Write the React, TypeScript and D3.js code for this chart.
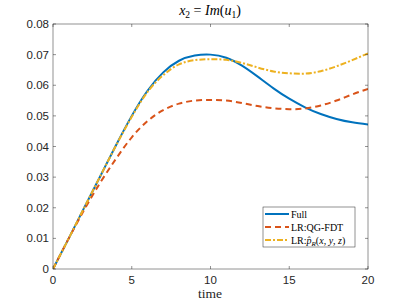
import * as d3 from 'd3'
import React from 'react'

const times = [0, 1, 2, 3, 4, 5, 6, 7, 8, 9, 10, 11, 12, 13, 14, 15, 16, 17, 18, 19, 20]
const full = [0, 0.01, 0.0202, 0.0303, 0.0404, 0.05, 0.0582, 0.0642, 0.068, 0.0697, 0.07, 0.069, 0.0664, 0.0628, 0.059, 0.0556, 0.0528, 0.0506, 0.049, 0.0479, 0.0472]
const qgfdt = [0, 0.01, 0.0195, 0.0282, 0.036, 0.043, 0.0483, 0.0519, 0.054, 0.055, 0.0552, 0.055, 0.0542, 0.0532, 0.0525, 0.0522, 0.0524, 0.0534, 0.055, 0.057, 0.0588]
const phat = [0, 0.01, 0.0202, 0.0303, 0.0403, 0.0497, 0.0578, 0.0633, 0.0668, 0.0682, 0.0685, 0.0683, 0.0673, 0.0658, 0.0645, 0.0639, 0.0638, 0.0646, 0.0662, 0.0682, 0.0704]
const xTicks = [0, 5, 10, 15, 20]
const yTicks = [0, 0.01, 0.02, 0.03, 0.04, 0.05, 0.06, 0.07, 0.08]

const series = [
  { name: 'Full', values: full, color: '#0072BD', dash: '' },
  { name: 'LR:QG-FDT', values: qgfdt, color: '#D95319', dash: '6,4' },
  { name: 'phat', values: phat, color: '#EDB120', dash: '6,2,2,2' }
]

const left = 53
const right = 368
const top = 24
const bottom = 269

export default function App() {
  const x = d3.scaleLinear().domain([0, 20]).range([left, right])
  const y = d3.scaleLinear().domain([0, 0.08]).range([bottom, top])
  const line = d3
    .line<number>()
    .x((d, i) => x(times[i]))
    .y(d => y(d))
    .curve(d3.curveNatural)
  const axisColor = '#262626'
  const sans = 'Liberation Sans, Arial, sans-serif'
  const serif = 'Liberation Serif, Times New Roman, serif'

  return (
    <svg
      width={407}
      height={305}
      style={{ position: 'absolute', left: 0, top: 0, background: '#fff' }}
    >
      <rect x={0} y={0} width={407} height={305} fill="#fff" />
      <defs>
        <clipPath id="clip">
          <rect x={left} y={top} width={right - left} height={bottom - top} />
        </clipPath>
      </defs>
      <g clipPath="url(#clip)">
        {series.map(s => (
          <path
            key={s.name}
            d={line(s.values) || ''}
            fill="none"
            stroke={s.color}
            strokeWidth={2}
            strokeDasharray={s.dash}
          />
        ))}
      </g>
      <rect
        x={left}
        y={top}
        width={right - left}
        height={bottom - top}
        fill="none"
        stroke={axisColor}
        strokeWidth={0.5}
      />
      {xTicks.map(t => (
        <g key={'x' + t}>
          <line x1={x(t)} x2={x(t)} y1={bottom} y2={bottom - 3} stroke={axisColor} strokeWidth={0.5} />
          <line x1={x(t)} x2={x(t)} y1={top} y2={top + 3} stroke={axisColor} strokeWidth={0.5} />
          <text x={x(t)} y={bottom + 15} textAnchor="middle" fontFamily={sans} fontSize={11.5} fill="#262626">
            {t}
          </text>
        </g>
      ))}
      {yTicks.map(t => (
        <g key={'y' + t}>
          <line x1={left} x2={left + 3} y1={y(t)} y2={y(t)} stroke={axisColor} strokeWidth={0.5} />
          <line x1={right} x2={right - 3} y1={y(t)} y2={y(t)} stroke={axisColor} strokeWidth={0.5} />
          <text x={left - 4} y={y(t) + 4} textAnchor="end" fontFamily={sans} fontSize={11.5} fill="#262626">
            {t === 0 ? '0' : t.toFixed(2)}
          </text>
        </g>
      ))}
      <text x={210} y={298} textAnchor="middle" fontFamily={serif} fontSize={13.5} fill="#262626">
        time
      </text>
      <text x={210} y={15} textAnchor="middle" fontFamily={serif} fontSize={14} fill="#000">
        <tspan fontStyle="italic">x</tspan>
        <tspan fontSize={9.5} dy={3}>2</tspan>
        <tspan dy={-3}> = </tspan>
        <tspan fontStyle="italic">Im</tspan>
        <tspan>(</tspan>
        <tspan fontStyle="italic">u</tspan>
        <tspan fontSize={9.5} dy={3}>1</tspan>
        <tspan dy={-3}>)</tspan>
      </text>
      <g>
        <rect x={263} y={207} width={92} height={40} fill="#fff" stroke={axisColor} strokeWidth={0.5} />
        {series.map((s, i) => {
          const ly = 214 + i * 13
          return (
            <g key={'l' + s.name}>
              <line x1={265} x2={289} y1={ly} y2={ly} stroke={s.color} strokeWidth={2} strokeDasharray={s.dash} />
              <text x={291} y={ly + 3.5} fontFamily={serif} fontSize={10} fill="#000">
                {s.name === 'phat' ? (
                  <>
                    <tspan>LR:</tspan>
                    <tspan fontStyle="italic">p̂</tspan>
                    <tspan fontStyle="italic" fontSize={7} dy={2}>R</tspan>
                    <tspan dy={-2}>(</tspan>
                    <tspan fontStyle="italic">x</tspan>
                    <tspan>, </tspan>
                    <tspan fontStyle="italic">y</tspan>
                    <tspan>, </tspan>
                    <tspan fontStyle="italic">z</tspan>
                    <tspan>)</tspan>
                  </>
                ) : (
                  s.name
                )}
              </text>
            </g>
          )
        })}
      </g>
    </svg>
  )
}
